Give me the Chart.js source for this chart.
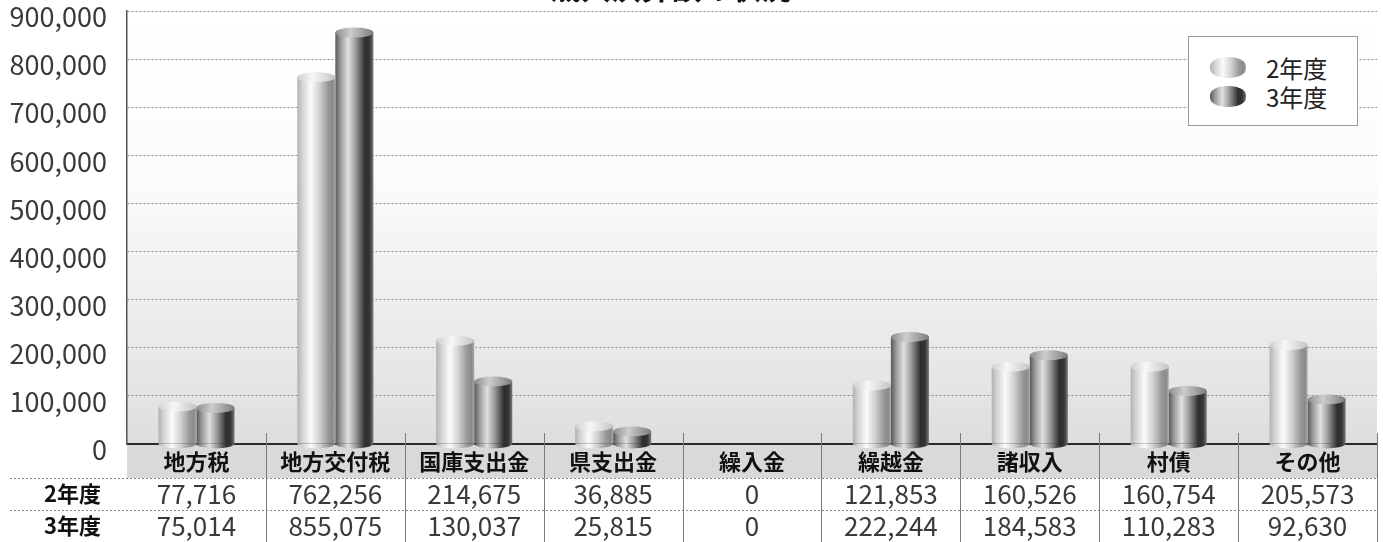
<!DOCTYPE html>
<html lang="ja">
<head>
<meta charset="utf-8">
<title>歳入決算額の状況</title>
<script src="https://cdn.jsdelivr.net/npm/chart.js@4.4.1/dist/chart.umd.min.js"></script>
<style>
  html, body { margin: 0; padding: 0; background: #fff; overflow: hidden; }
  #wrap { position: relative; width: 1383px; height: 542px; }
  #legend {
    position: absolute; left: 1188px; top: 36px; width: 170px; height: 90px;
    box-sizing: border-box; border: 1.5px solid #9a9a9a; background: #fff;
    font-family: "Noto Sans CJK JP", "Noto Sans", sans-serif; font-size: 24px; color: #222;
  }
  .item { position: absolute; left: 21px; height: 29px; line-height: 29px; }
  .sw { position: absolute; left: 0; top: 4px; width: 36px; height: 21px; border-radius: 45%; }
  .txt { position: absolute; left: 56px; top: 0; white-space: nowrap; }
</style>
</head>
<body>
<div id="wrap">
  <canvas id="chart"></canvas>
  <div id="legend"></div>
</div>
<script>
// data
const categories = ['地方税', '地方交付税', '国庫支出金', '県支出金', '繰入金', '繰越金', '諸収入', '村債', 'その他'];
const year2 = [77716, 762256, 214675, 36885, 0, 121853, 160526, 160754, 205573];
const year3 = [75014, 855075, 130037, 25815, 0, 222244, 184583, 110283, 92630];
const seriesNames = ['2年度', '3年度'];
const yTicks = [0, 100000, 200000, 300000, 400000, 500000, 600000, 700000, 800000, 900000];
const chartTitle = '歳入決算額の状況';

const FONT = '"Noto Sans CJK JP", "Noto Sans", sans-serif';
const TABLE_H = 98;

// cylinder shading, left -> right
const bodyStops = [
  [[0, '#b2b2b2'], [0.14, '#d4d4d4'], [0.36, '#fbfbfb'], [0.58, '#d2d2d2'], [0.82, '#979797'], [0.93, '#8a8a8a'], [1, '#a8a8a8']],
  [[0, '#585858'], [0.14, '#9a9a9a'], [0.34, '#e0e0e0'], [0.55, '#959595'], [0.78, '#2e2e2e'], [0.9, '#353535'], [1, '#7a7a7a']]
];
const capStops = [
  [[0, '#cfcfcf'], [0.4, '#f7f7f7'], [1, '#c4c4c4']],
  [[0, '#8c8c8c'], [0.4, '#cdcdcd'], [1, '#7c7c7c']]
];

function hGrad(ctx, x0, x1, stops) {
  const g = ctx.createLinearGradient(x0, 0, x1, 0);
  stops.forEach(s => g.addColorStop(s[0], s[1]));
  return g;
}

const cylinder = {
  id: 'cylinder',
  beforeDatasetsDraw(chart) {
    const ctx = chart.ctx;
    chart.data.datasets.forEach((ds, i) => {
      chart.getDatasetMeta(i).data.forEach(el => {
        el.options.backgroundColor = hGrad(ctx, el.x - el.width / 2, el.x + el.width / 2, bodyStops[i]);
      });
    });
  },
  afterDatasetsDraw(chart) {
    const ctx = chart.ctx;
    chart.data.datasets.forEach((ds, i) => {
      chart.getDatasetMeta(i).data.forEach((el, j) => {
        if (!ds.data[j]) return;
        const l = el.x - el.width / 2, r = el.x + el.width / 2, rx = el.width / 2, ry = 5;
        ctx.save();
        ctx.fillStyle = hGrad(ctx, l, r, bodyStops[i]);
        ctx.beginPath();
        ctx.ellipse(el.x, el.base, rx, ry, 0, 0, Math.PI);
        ctx.fill();
        ctx.fillStyle = hGrad(ctx, l, r, capStops[i]);
        ctx.beginPath();
        ctx.ellipse(el.x, el.y, rx, ry, 0, 0, Math.PI * 2);
        ctx.fill();
        ctx.restore();
      });
    });
  }
};

const table = {
  id: 'table',
  beforeDraw(chart) {
    const { ctx, chartArea: a } = chart;
    const g = ctx.createLinearGradient(0, a.top, 0, a.bottom);
    g.addColorStop(0, '#ffffff');
    g.addColorStop(0.4, '#fbfbfb');
    g.addColorStop(1, '#dedede');
    ctx.save();
    ctx.fillStyle = g;
    ctx.fillRect(a.left, a.top, a.right - a.left, a.bottom - a.top);
    ctx.fillStyle = '#d9d9d9';
    ctx.fillRect(a.left, a.bottom, a.right - a.left, 34);
    ctx.restore();
  },
  afterDraw(chart) {
    const { ctx, chartArea: a } = chart;
    const x = chart.scales.x;
    const step = (a.right - a.left) / categories.length;
    const b = a.bottom;
    ctx.save();
    // row dividers
    ctx.strokeStyle = '#8a8a8a';
    ctx.lineWidth = 1;
    ctx.setLineDash([2, 2]);
    [b + 34.5, b + 66.5].forEach(y => {
      ctx.beginPath(); ctx.moveTo(10, y); ctx.lineTo(a.right, y); ctx.stroke();
    });
    ctx.setLineDash([]);
    // column separators
    ctx.strokeStyle = '#7a7a7a';
    for (let i = 1; i <= categories.length; i++) {
      const sx = Math.round(a.left + step * i) + 0.5;
      ctx.beginPath(); ctx.moveTo(sx, b - 11); ctx.lineTo(sx, chart.height); ctx.stroke();
    }
    // texts
    ctx.textAlign = 'center';
    ctx.textBaseline = 'middle';
    categories.forEach((c, i) => {
      const cx = x.getPixelForValue(i);
      ctx.fillStyle = '#111';
      ctx.font = 'bold 22px ' + FONT;
      ctx.fillText(c, cx, b + 18);
      ctx.fillStyle = '#3a3a3a';
      ctx.font = '26px ' + FONT;
      ctx.fillText(year2[i].toLocaleString('en-US'), cx, b + 50);
      ctx.fillText(year3[i].toLocaleString('en-US'), cx, b + 82);
    });
    ctx.textAlign = 'right';
    ctx.fillStyle = '#111';
    ctx.font = 'bold 22px ' + FONT;
    ctx.fillText(seriesNames[0], 101, b + 50);
    ctx.fillText(seriesNames[1], 101, b + 82);
    // title, mostly cut at the top edge
    ctx.textAlign = 'center';
    ctx.textBaseline = 'alphabetic';
    ctx.font = 'bold 30px ' + FONT;
    ctx.fillText(chartTitle, 671, -1);
    ctx.restore();
  }
};

new Chart(document.getElementById('chart'), {
  type: 'bar',
  data: {
    labels: categories,
    datasets: [
      { label: seriesNames[0], data: year2, backgroundColor: () => '#d0d0d0', borderWidth: 0 },
      { label: seriesNames[1], data: year3, backgroundColor: () => '#707070', borderWidth: 0 }
    ]
  },
  options: {
    responsive: true,
    maintainAspectRatio: false,
    animation: false,
    events: [],
    layout: { padding: { top: 11, right: 6, left: 0, bottom: 0 } },
    categoryPercentage: 0.548,
    barPercentage: 1,
    plugins: { legend: { display: false }, title: { display: false }, tooltip: { enabled: false } },
    scales: {
      x: {
        grid: { display: false },
        ticks: { display: false },
        border: { display: true, color: '#2a2a2a', width: 2 },
        afterFit: s => { s.height = TABLE_H; s.paddingLeft = 0; s.paddingRight = 0; }
      },
      y: {
        min: 0,
        max: 900000,
        afterBuildTicks: s => { s.ticks = yTicks.map(v => ({ value: v })); },
        afterFit: s => { s.width = 127; s.paddingTop = 0; s.paddingBottom = 0; },
        grid: { color: '#8a8a8a', lineWidth: 1, drawTicks: false },
        border: { display: true, color: '#555', width: 1.5, dash: [2, 2] },
        ticks: {
          padding: 20,
          labelOffset: 6,
          color: '#3a3a3a',
          font: { family: FONT, size: 27 },
          callback: v => v.toLocaleString('en-US')
        }
      }
    }
  },
  plugins: [table, cylinder]
});

// legend
const lg = document.getElementById('legend');
seriesNames.forEach((n, i) => {
  const it = document.createElement('div');
  it.className = 'item';
  it.style.top = (16 + i * 29) + 'px';
  const sw = document.createElement('span');
  sw.className = 'sw';
  sw.style.background = 'linear-gradient(to right,' + bodyStops[i].map(s => s[1] + ' ' + (s[0] * 100) + '%').join(',') + ')';
  const t = document.createElement('span');
  t.className = 'txt';
  t.textContent = n;
  it.appendChild(sw);
  it.appendChild(t);
  lg.appendChild(it);
});
</script>
</body>
</html>
